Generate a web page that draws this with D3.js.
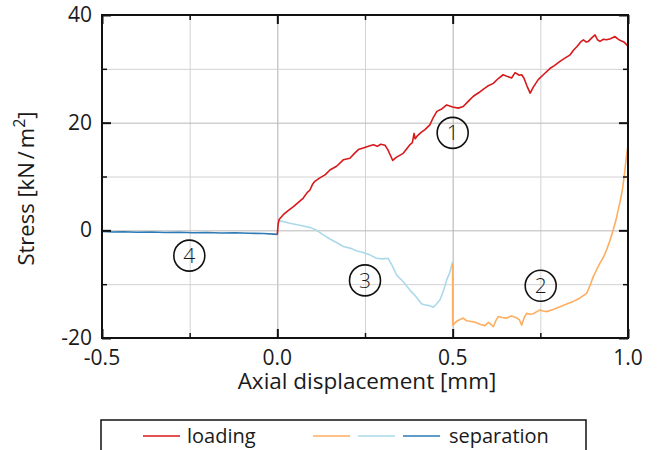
<!DOCTYPE html>
<html>
<head>
<meta charset="utf-8">
<script src="https://cdn.jsdelivr.net/npm/d3@7"></script>
<style>
  body { margin: 0; background: #fff; }
  svg text { font-family: "Open Sans", "DejaVu Sans", sans-serif; fill: #1a1a1a; }
</style>
</head>
<body>
<svg id="chart" width="659" height="450"></svg>
<script>
// tick values
var xTicks = [-0.5, 0.0, 0.5, 1.0];
var xMinor = [-0.25, 0.25, 0.75];
var yTicks = [-20, 0, 20, 40];
var yMinor = [-10, 10, 30];

// loading curve (1) [mm, kN/m2]
var loading = [[0,-0.8],[0.002,1.0],[0.005,2.0],[0.017,2.9],[0.03,3.6],[0.046,4.4],[0.06,5.2],[0.074,6.0],
  [0.085,7.0],[0.093,7.5],[0.1,8.5],[0.107,9.1],[0.12,9.7],[0.136,10.3],[0.15,11.2],[0.169,11.9],[0.188,13.1],
  [0.207,13.4],[0.22,14.3],[0.231,15.0],[0.245,15.3],[0.264,15.7],[0.274,15.9],[0.285,15.6],[0.295,16.0],
  [0.307,15.8],[0.315,15.0],[0.322,14.0],[0.329,13.0],[0.34,13.6],[0.359,14.3],[0.378,15.9],[0.385,16.3],
  [0.39,18.0],[0.393,17.0],[0.4,17.6],[0.41,18.2],[0.421,18.7],[0.435,19.6],[0.445,21.0],[0.455,22.1],
  [0.47,22.6],[0.483,23.3],[0.5,22.9],[0.516,22.7],[0.53,23.0],[0.545,24.0],[0.559,24.9],[0.575,25.6],
  [0.587,26.2],[0.6,26.8],[0.616,27.3],[0.63,28.2],[0.644,28.9],[0.655,28.6],[0.668,28.3],[0.678,29.3],
  [0.69,28.8],[0.697,28.9],[0.703,28.3],[0.712,26.8],[0.721,25.5],[0.73,26.6],[0.744,28.0],[0.76,29.0],
  [0.778,30.1],[0.79,30.6],[0.806,31.4],[0.82,32.0],[0.835,32.6],[0.845,33.5],[0.854,34.1],[0.865,35.0],
  [0.873,35.4],[0.88,35.0],[0.887,35.1],[0.896,35.7],[0.906,36.3],[0.913,35.4],[0.92,35.1],[0.93,35.5],
  [0.939,35.4],[0.95,35.6],[0.963,36.0],[0.97,35.6],[0.977,35.3],[0.988,35.0],[0.996,34.5],[1.0,34.2]];

// unloading curve (3)
var unloading = [[0,1.9],[0.036,1.3],[0.074,0.8],[0.095,0.5],[0.112,0.0],[0.13,-0.8],[0.15,-1.6],[0.17,-2.3],
  [0.188,-3.0],[0.207,-3.3],[0.225,-3.8],[0.245,-4.1],[0.265,-4.6],[0.283,-5.2],[0.3,-5.3],[0.316,-5.2],
  [0.328,-6.6],[0.34,-8.3],[0.36,-9.6],[0.378,-11.1],[0.395,-12.3],[0.412,-13.7],[0.425,-13.9],[0.435,-14.0],
  [0.445,-14.3],[0.455,-13.6],[0.464,-12.9],[0.475,-11.0],[0.483,-9.2],[0.492,-7.8],[0.5,-5.8]];

// reloading curve (2)
var reloading = [[0.5,-6.2],[0.5,-17.6],[0.511,-16.9],[0.52,-16.6],[0.53,-16.3],[0.54,-16.8],[0.549,-16.9],
  [0.56,-17.0],[0.569,-17.2],[0.58,-17.5],[0.592,-17.7],[0.602,-17.1],[0.61,-17.5],[0.616,-17.9],[0.623,-16.8],
  [0.63,-16.0],[0.64,-16.2],[0.654,-16.3],[0.668,-15.9],[0.676,-16.1],[0.683,-16.3],[0.69,-16.6],[0.697,-17.6],
  [0.704,-16.2],[0.711,-15.4],[0.72,-15.6],[0.73,-15.5],[0.74,-15.1],[0.749,-14.8],[0.758,-15.0],[0.768,-15.1],
  [0.786,-14.7],[0.806,-14.2],[0.825,-13.7],[0.844,-13.2],[0.862,-12.6],[0.882,-11.7],[0.892,-10.2],
  [0.901,-8.6],[0.91,-7.4],[0.92,-6.1],[0.93,-5.0],[0.939,-3.6],[0.948,-2.0],[0.958,0.1],[0.966,2.0],
  [0.972,3.8],[0.978,5.5],[0.984,7.5],[0.99,10.5],[0.996,14.0],[0.999,15.3]];

// separation curve (4)
var separation = [[-0.5,-0.2],[-0.47,-0.3],[-0.44,-0.25],[-0.4,-0.35],[-0.36,-0.3],[-0.32,-0.4],[-0.28,-0.35],
  [-0.24,-0.45],[-0.2,-0.4],[-0.16,-0.5],[-0.12,-0.45],[-0.08,-0.55],[-0.04,-0.6],[-0.01,-0.7],[0,-0.75]];

// circled labels
var marks = [["1", 0.5, 18.1], ["2", 0.751, -10.3], ["3", 0.25, -9.3], ["4", -0.251, -4.7]];

var margin = { top: 15, right: 31, bottom: 112, left: 102 };
var width = 659 - margin.left - margin.right;
var height = 450 - margin.top - margin.bottom;

var svg = d3.select("#chart");
var g = svg.append("g").attr("transform", "translate(" + margin.left + "," + margin.top + ")");

var x = d3.scaleLinear().domain([-0.5, 1.0]).range([0, width]);
var y = d3.scaleLinear().domain([-20, 40]).range([height, 0]);

// grid
g.append("g").call(d3.axisBottom(x).tickValues(xMinor).tickSize(height).tickFormat(""))
  .call(function(s) { s.select(".domain").remove(); s.selectAll("line").attr("stroke", "#d2d2d2"); });
g.append("g").call(d3.axisBottom(x).tickValues(xTicks).tickSize(height).tickFormat(""))
  .call(function(s) { s.select(".domain").remove(); s.selectAll("line").attr("stroke", "#b0b0b0"); });
g.append("g").call(d3.axisLeft(y).tickValues(yMinor).tickSize(-width).tickFormat(""))
  .call(function(s) { s.select(".domain").remove(); s.selectAll("line").attr("stroke", "#d2d2d2"); });
g.append("g").call(d3.axisLeft(y).tickValues(yTicks).tickSize(-width).tickFormat(""))
  .call(function(s) { s.select(".domain").remove(); s.selectAll("line").attr("stroke", "#b8b8b8"); });

// curves
var line = d3.line().x(function(d) { return x(d[0]); }).y(function(d) { return y(d[1]); });
var series = [[separation, "#2c7bb6"], [unloading, "#abd9e9"], [reloading, "#fdae61"], [loading, "#d7191c"]];
series.forEach(function(s) {
  g.append("path").datum(s[0]).attr("d", line)
    .attr("fill", "none").attr("stroke", s[1]).attr("stroke-width", 1.6)
    .attr("stroke-linejoin", "round");
});

// circled numbers
marks.forEach(function(m) {
  g.append("circle").attr("cx", x(m[1])).attr("cy", y(m[2])).attr("r", 15.5)
    .attr("fill", "none").attr("stroke", "#111").attr("stroke-width", 1.6);
  g.append("text").attr("x", x(m[1])).attr("y", y(m[2]) + 7.5).attr("text-anchor", "middle")
    .attr("font-size", "21px").attr("font-weight", 300).text(m[0]);
});

// inward ticks on all four sides
function ticks(axis, vals, len, sw, tr) {
  g.append("g").attr("transform", tr).call(axis.tickValues(vals).tickSize(len).tickFormat(""))
    .call(function(s) { s.select(".domain").remove(); s.selectAll("line").attr("stroke", "#111").attr("stroke-width", sw); });
}
ticks(d3.axisTop(x), xTicks, 9, 2, "translate(0," + height + ")");
ticks(d3.axisTop(x), xMinor, 5, 1.5, "translate(0," + height + ")");
ticks(d3.axisBottom(x), xTicks, 9, 2, "translate(0,0)");
ticks(d3.axisBottom(x), xMinor, 5, 1.5, "translate(0,0)");
ticks(d3.axisRight(y), yTicks, 9, 2, "translate(0,0)");
ticks(d3.axisRight(y), yMinor, 5, 1.5, "translate(0,0)");
ticks(d3.axisLeft(y), yTicks, 9, 2, "translate(" + width + ",0)");
ticks(d3.axisLeft(y), yMinor, 5, 1.5, "translate(" + width + ",0)");

// frame
g.append("rect").attr("width", width).attr("height", height)
  .attr("fill", "none").attr("stroke", "#111").attr("stroke-width", 2);

// tick labels
g.selectAll(".xl").data(xTicks).enter().append("text")
  .attr("x", function(d) { return x(d); }).attr("y", height + 27)
  .attr("text-anchor", "middle").attr("font-size", "21px")
  .text(function(d) { return d3.format(".1f")(d).replace("−", "-"); });
g.selectAll(".yl").data(yTicks).enter().append("text")
  .attr("x", -10).attr("y", function(d) { return y(d) + 7; })
  .attr("text-anchor", "end").attr("font-size", "21px")
  .text(function(d) { return String(d); });

// axis titles
g.append("text").attr("x", width / 2 + 2).attr("y", height + 51)
  .attr("text-anchor", "middle").attr("font-size", "22.5px").text("Axial displacement [mm]");
var yt = svg.append("text").attr("transform", "translate(33.5,188.5) rotate(-90)")
  .attr("text-anchor", "middle").attr("font-size", "22px");
yt.append("tspan").text("Stress [kN");
yt.append("tspan").attr("dx", 3).text("/");
yt.append("tspan").attr("dx", 3).text("m");
yt.append("tspan").attr("dy", -9).attr("font-size", "16px").text("2");
yt.append("tspan").attr("dy", 9).text("]");

// legend
var lg = svg.append("g");
lg.append("rect").attr("x", 101).attr("y", 420).attr("width", 485).attr("height", 40)
  .attr("fill", "#fff").attr("stroke", "#111").attr("stroke-width", 1.5);
var legendLines = [[143, "#d7191c"], [313, "#fdae61"], [358, "#abd9e9"], [403, "#2c7bb6"]];
legendLines.forEach(function(l) {
  lg.append("line").attr("x1", l[0]).attr("x2", l[0] + 37).attr("y1", 436).attr("y2", 436)
    .attr("stroke", l[1]).attr("stroke-width", 1.6);
});
lg.append("text").attr("x", 187).attr("y", 443).attr("font-size", "20px").text("loading");
lg.append("text").attr("x", 449).attr("y", 443).attr("font-size", "20px").text("separation");
</script>
</body>
</html>
